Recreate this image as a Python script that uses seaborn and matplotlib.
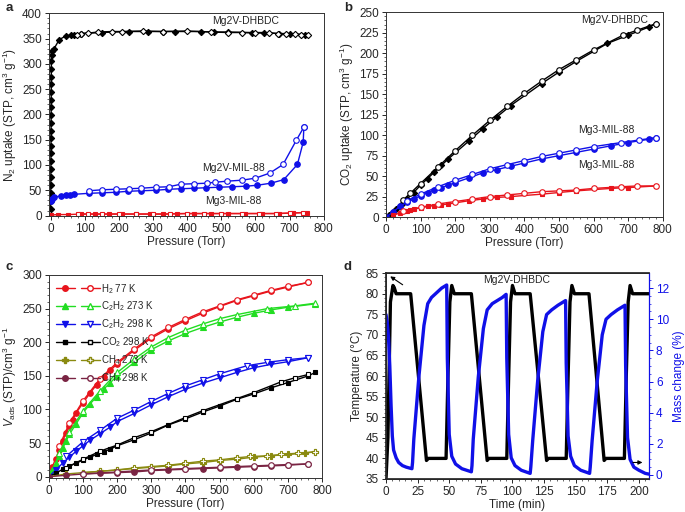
import numpy as np
import matplotlib
matplotlib.use("Agg")
import matplotlib.pyplot as plt
from matplotlib.ticker import MultipleLocator, AutoMinorLocator
from matplotlib.legend_handler import HandlerTuple
from matplotlib.lines import Line2D
import seaborn as sns

sns.set_theme(style="ticks")
plt.rcParams['font.family'] = ['Liberation Sans', 'DejaVu Sans']
plt.rcParams['mathtext.fontset'] = 'custom'
plt.rcParams['mathtext.rm'] = 'Liberation Sans'
plt.rcParams['mathtext.it'] = 'Liberation Sans:italic'
plt.rcParams['mathtext.bf'] = 'Liberation Sans:bold'

RED = "#e8141c"
BLUE = "#1010e8"
GREEN = "#22dd22"
OLIVE = "#8a8a10"
MAROON = "#7a2443"

# ---- panel a: N2 uptake ----
a_dh_ads_p = [0.1, 0.2, 0.3, 0.4, 0.5, 0.6, 0.7, 0.8, 0.9, 1.0, 1.1, 1.2, 1.3, 1.4, 1.5, 1.6, 1.7, 1.8, 1.9, 2.0,
              2.5, 4, 10, 25, 44, 59, 68, 88, 150, 230, 285, 330, 365, 440, 480, 520, 590, 625, 670, 700, 745]
a_dh_ads_v = [12, 28, 45, 60, 76, 92, 108, 123, 138, 153, 168, 183, 199, 214, 229, 245, 260, 275, 290, 305,
              318, 326, 330, 348, 355, 357, 358, 360, 362, 364, 364, 364, 364, 364, 363, 363, 362, 362, 360, 359, 358]
a_dh_des_p = [755, 735, 715, 690, 665, 640, 600, 560, 520, 470, 400, 330, 270, 210, 180, 140, 110, 90, 78]
a_dh_des_v = [358, 358, 359, 360, 360, 361, 361, 362, 362, 363, 365, 364, 365, 364, 364, 363, 361, 360, 358]

a_mil_ads_p = [0, 3, 10, 29, 46, 56, 68, 112, 151, 190, 226, 264, 308, 345, 381, 420, 454, 493, 532, 571, 606,
               645, 683, 723, 740, 742]
a_mil_ads_v = [28, 32, 36, 39, 40, 41, 42, 44, 45, 46, 48, 49, 50, 52, 53, 54, 55, 56, 57, 58, 60,
               64, 71, 101, 145, 175]
a_mil_des_p = [742, 720, 681, 642, 600, 561, 517, 483, 457, 420, 381, 347, 308, 264, 229, 190, 151, 112]
a_mil_des_v = [175, 149, 101, 84, 74, 70, 68, 66, 64, 63, 62, 57, 56, 54, 53, 52, 51, 49]

a_mg3_ads_p = [0, 20, 50, 90, 130, 170, 210, 250, 290, 330, 370, 420, 470, 520, 570, 620, 670, 710, 750]
a_mg3_ads_v = [1, 2, 2, 3, 3, 3, 3, 3, 3, 3, 4, 4, 4, 4, 4, 4, 4, 5, 6]
a_mg3_des_p = [740, 700, 660, 610, 560, 500, 450, 400, 350, 300, 250, 200, 150, 110, 80]
a_mg3_des_v = [6, 5, 4, 4, 4, 4, 4, 4, 3, 3, 3, 3, 3, 3, 3]

# ---- panel b: CO2 uptake ----
b_dh_ads_p = [0, 10, 20, 30, 40, 50, 60, 80, 100, 120, 140, 160, 180, 240, 280, 320, 360, 450, 500, 550, 640,
              700, 760, 780]
b_dh_ads_v = [0, 3, 6, 10, 14, 17, 22, 30, 39, 47, 55, 63, 71, 93, 108, 122, 136, 163, 177, 190, 212,
              222, 232, 236]
b_dh_des_p = [780, 725, 685, 600, 550, 500, 450, 400, 350, 300, 250, 200, 150, 100, 70, 50]
b_dh_des_v = [236, 228, 222, 204, 192, 180, 166, 151, 135, 118, 100, 81, 61, 41, 29, 21]

b_blue_ads_p = [0, 20, 40, 60, 80, 100, 120, 140, 160, 180, 200, 240, 280, 320, 360, 400, 450, 500, 550, 600,
                650, 700, 760, 780]
b_blue_ads_v = [0, 6, 13, 18, 22, 26, 30, 33, 36, 39, 42, 48, 54, 58, 62, 66, 71, 75, 79, 83,
                87, 91, 95, 97]
b_blue_des_p = [780, 730, 680, 600, 550, 500, 450, 400, 350, 300, 250, 200, 150, 100, 60]
b_blue_des_v = [97, 94, 91, 86, 82, 78, 74, 69, 64, 59, 52, 45, 37, 28, 20]

b_red_ads_p = [20, 40, 60, 70, 80, 100, 120, 140, 160, 180, 240, 280, 320, 360, 450, 500, 550, 650, 700, 780]
b_red_ads_v = [2, 5, 8, 9, 10, 11, 13, 14, 15, 16, 20, 22, 24, 25, 28, 30, 32, 35, 36, 38]
b_red_des_p = [780, 725, 680, 600, 550, 500, 450, 400, 350, 300, 250, 200, 150, 100, 50]
b_red_des_v = [38, 38, 37, 35, 33, 32, 31, 29, 27, 25, 22, 19, 16, 12, 7]

# ---- panel c: gas isotherms (adsorption / desorption) ----
c_h2_p = [0, 10, 20, 30, 40, 50, 60, 70, 80, 100, 120, 140, 160, 180, 200, 250, 300, 350, 400, 450, 500, 550,
          600, 650, 700, 760]
c_h2_v = [0, 15, 27, 40, 53, 65, 75, 85, 95, 110, 124, 137, 148, 158, 168, 188, 206, 220, 232, 243, 253, 262,
          269, 276, 282, 289]
c_h2_des_p = [760, 700, 650, 600, 550, 500, 450, 400, 350, 300, 250, 200, 150, 100, 60, 30]
c_h2_des_v = [289, 283, 277, 270, 263, 254, 245, 234, 222, 208, 190, 170, 146, 113, 80, 45]

c_c2h2a_p = [0, 10, 20, 30, 40, 50, 60, 80, 100, 120, 140, 160, 180, 200, 250, 300, 350, 400, 450, 500, 550,
             600, 650, 700, 780]
c_c2h2a_v = [0, 10, 20, 30, 42, 53, 63, 79, 95, 108, 119, 130, 140, 150, 170, 189, 202, 213, 222, 230, 237,
             243, 248, 252, 257]
c_c2h2a_des_p = [780, 720, 640, 550, 500, 450, 400, 350, 300, 250, 200, 150, 100, 60, 30]
c_c2h2a_des_v = [258, 254, 250, 241, 235, 227, 218, 207, 193, 175, 155, 128, 98, 67, 35]

c_c2h2b_p = [0, 20, 40, 60, 80, 100, 120, 150, 180, 200, 250, 300, 350, 400, 450, 500, 550, 600, 650, 700, 760]
c_c2h2b_v = [0, 10, 20, 29, 38, 46, 54, 64, 74, 82, 94, 107, 119, 130, 139, 147, 155, 162, 167, 171, 177]
c_c2h2b_des_p = [760, 700, 640, 580, 500, 450, 400, 350, 300, 250, 200, 150, 100, 50]
c_c2h2b_des_v = [177, 174, 170, 165, 153, 144, 135, 124, 112, 99, 87, 69, 52, 30]

c_co2_p = [0, 20, 40, 60, 80, 100, 120, 140, 160, 180, 200, 250, 300, 350, 400, 450, 500, 550, 600, 650,
           700, 760, 780]
c_co2_v = [0, 5, 11, 16, 20, 25, 29, 33, 37, 41, 46, 55, 65, 77, 86, 96, 105, 115, 123, 132, 140, 150, 155]
c_co2_des_p = [760, 720, 680, 600, 550, 450, 400, 300, 250, 200, 150, 100, 50]
c_co2_des_v = [152, 147, 141, 125, 116, 98, 88, 67, 58, 47, 38, 26, 13]

c_ch4a_p = [0, 50, 100, 150, 200, 250, 300, 350, 400, 450, 500, 550, 600, 650, 700, 750, 780]
c_ch4a_v = [0, 4, 6, 8, 10, 12, 14, 16, 19, 21, 24, 26, 29, 31, 33, 35, 37]
c_ch4a_des_p = [780, 730, 680, 640, 590, 550, 500, 450, 400, 350, 300, 250, 200, 150, 100]
c_ch4a_des_v = [37, 35, 33, 31, 30, 28, 25, 23, 20, 17, 15, 13, 10, 8, 6]

c_ch4b_p = [0, 50, 100, 150, 200, 250, 300, 350, 400, 450, 500, 550, 600, 650, 700, 760]
c_ch4b_v = [0, 2, 4, 5, 6, 7, 9, 10, 11, 12, 13, 14, 15, 16, 17, 19]
c_ch4b_des_p = [760, 700, 650, 600, 500, 400, 300, 200, 100]
c_ch4b_des_v = [19, 18, 17, 16, 14, 12, 10, 7, 4]

c_labels = ["H$_2$ 77 K", "C$_2$H$_2$ 273 K", "C$_2$H$_2$ 298 K", "CO$_2$ 298 K", "CH$_4$ 273 K", "CH$_4$ 298 K"]

# ---- panel d: cycling ----
d_temp_t = [0, 1.5, 3.5, 5.5, 6.5, 8, 19.5, 32, 33.5, 47.5, 49, 50.5, 52, 54, 67.5, 80, 81.5, 95.5, 97, 98.5,
            100, 102, 114, 127, 128.5, 142.5, 144, 145.5, 147, 149, 160.5, 172.5, 174, 188.5, 190, 191.5, 193,
            195, 208]
d_temp_v = [35, 45, 78, 82, 81.5, 80, 80, 39.5, 40, 40, 60, 78, 82, 80, 80, 39.5, 40, 40, 60, 78,
            82, 80, 80, 39.5, 40, 40, 60, 78, 82, 80, 80, 39.5, 40, 40, 60, 78, 82,
            80, 80]
d_mass_t = [0, 1, 2, 3, 4, 5, 6, 8, 10, 13, 16, 20.5, 21, 22, 26, 30, 33, 36, 40, 44, 48, 48.5, 50, 52, 55, 60,
            67.5, 68, 69, 73, 77, 80, 84, 88, 92, 95, 95.5, 97, 99, 102, 107, 114, 114.5, 116, 120, 124, 127,
            131, 136, 142, 142.5, 144, 146, 149, 154, 161, 161.5, 163, 167, 171, 174, 178, 183, 189, 189.5,
            191, 193, 196, 200, 205, 208]
d_mass_v = [10.3, 9.8, 8.8, 7.0, 4.5, 2.5, 1.6, 1.1, 0.8, 0.6, 0.5, 0.4, 0.8, 2.3, 6.3, 9.6, 11.0, 11.4, 11.7,
            12.0, 12.2, 7.5, 2.6, 1.2, 0.7, 0.4, 0.2, 0.6, 2.3, 6.3, 9.4, 10.6, 11.0, 11.2, 11.4, 11.6, 7.5,
            2.6, 1.1, 0.6, 0.3, 0.1, 0.5, 2.2, 6.1, 9.2, 10.3, 10.6, 10.9, 11.2, 7.2, 2.5, 1.2, 0.6, 0.3,
            0.1, 0.5, 2.2, 6.0, 9.0, 10.0, 10.3, 10.6, 10.9, 7.0, 2.4, 1.0, 0.5, 0.3, 0.1, 0.05]


def series(ax, p, v, color, marker, ms=4, filled=True, lw=1.0):
    sns.lineplot(x=p, y=v, ax=ax, color=color, marker=marker, markersize=ms,
                 markerfacecolor=color if filled else "white", markeredgecolor=color,
                 markeredgewidth=0.8, linewidth=lw, sort=False, estimator=None, legend=False)


def style(ax, xmaj, ymaj):
    ax.xaxis.set_major_locator(MultipleLocator(xmaj))
    ax.yaxis.set_major_locator(MultipleLocator(ymaj))
    ax.xaxis.set_minor_locator(AutoMinorLocator())
    ax.yaxis.set_minor_locator(AutoMinorLocator())
    ax.tick_params(which="major", direction="out", length=3, width=0.7, labelsize=8.5, pad=2)
    ax.tick_params(which="minor", direction="out", length=1.6, width=0.5)
    for s in ax.spines.values():
        s.set_linewidth(0.7)
        s.set_color("#333333")


fig = plt.figure(figsize=(6.85, 5.12), dpi=100)
ax_a = fig.add_axes([0.0715, 0.578, 0.401, 0.396])
ax_b = fig.add_axes([0.5635, 0.576, 0.404, 0.400])
ax_c = fig.add_axes([0.0715, 0.0664, 0.3985, 0.3965])
ax_d = fig.add_axes([0.5635, 0.0645, 0.384, 0.402])

# a
series(ax_a, a_dh_ads_p, a_dh_ads_v, "black", "D", ms=3.2)
series(ax_a, a_dh_des_p, a_dh_des_v, "black", "D", ms=3.2, filled=False)
series(ax_a, a_mil_ads_p, a_mil_ads_v, BLUE, "o", ms=4)
series(ax_a, a_mil_des_p, a_mil_des_v, BLUE, "o", ms=4, filled=False)
series(ax_a, a_mg3_ads_p, a_mg3_ads_v, RED, "s", ms=3)
series(ax_a, a_mg3_des_p, a_mg3_des_v, RED, "s", ms=3, filled=False)
ax_a.set_xlim(-5, 800)
ax_a.set_ylim(-1, 400)
style(ax_a, 100, 50)
ax_a.set_xlabel("Pressure (Torr)", fontsize=8.5, labelpad=1)
ax_a.set_ylabel("N$_2$ uptake (STP, cm$^3$ g$^{-1}$)", fontsize=8.5, labelpad=2)
ax_a.text(572, 384, "Mg2V-DHBDC", fontsize=7.5, ha="center", va="center")
ax_a.text(536, 95, "Mg2V-MIL-88", fontsize=7.5, ha="center", va="center")
ax_a.text(536, 28, "Mg3-MIL-88", fontsize=7.5, ha="center", va="center")

# b
series(ax_b, b_dh_ads_p, b_dh_ads_v, "black", "D", ms=3.2)
series(ax_b, b_dh_des_p, b_dh_des_v, "black", "o", ms=4, filled=False)
series(ax_b, b_blue_ads_p, b_blue_ads_v, BLUE, "o", ms=4)
series(ax_b, b_blue_des_p, b_blue_des_v, BLUE, "o", ms=4, filled=False)
series(ax_b, b_red_ads_p, b_red_ads_v, RED, "s", ms=3.5)
series(ax_b, b_red_des_p, b_red_des_v, RED, "o", ms=4, filled=False)
ax_b.set_xlim(0, 800)
ax_b.set_ylim(0, 250)
style(ax_b, 100, 25)
ax_b.set_xlabel("Pressure (Torr)", fontsize=8.5, labelpad=1)
ax_b.set_ylabel("CO$_2$ uptake (STP, cm$^3$ g$^{-1}$)", fontsize=8.5, labelpad=2)
ax_b.text(662, 240, "Mg2V-DHBDC", fontsize=7.5, ha="center", va="center")
ax_b.text(638, 106, "Mg3-MIL-88", fontsize=7.5, ha="center", va="center")
ax_b.text(638, 63, "Mg3-MIL-88", fontsize=7.5, ha="center", va="center")

# c
c_sets = [(c_h2_p, c_h2_v, c_h2_des_p, c_h2_des_v, RED, "o", 4),
          (c_c2h2a_p, c_c2h2a_v, c_c2h2a_des_p, c_c2h2a_des_v, GREEN, "^", 4),
          (c_c2h2b_p, c_c2h2b_v, c_c2h2b_des_p, c_c2h2b_des_v, BLUE, "v", 4),
          (c_co2_p, c_co2_v, c_co2_des_p, c_co2_des_v, "black", "s", 3.5),
          (c_ch4a_p, c_ch4a_v, c_ch4a_des_p, c_ch4a_des_v, OLIVE, "P", 4),
          (c_ch4b_p, c_ch4b_v, c_ch4b_des_p, c_ch4b_des_v, MAROON, "o", 4)]
handles = []
for (p, v, pd, vd, col, mk, ms), lab in zip(c_sets, c_labels):
    series(ax_c, p, v, col, mk, ms=ms)
    series(ax_c, pd, vd, col, mk, ms=ms, filled=False)
    h1 = Line2D([], [], color=col, marker=mk, markersize=ms, lw=1)
    h2 = Line2D([], [], color=col, marker=mk, markersize=ms, lw=1, markerfacecolor="white")
    handles.append((h1, h2))
ax_c.legend(handles, c_labels, handler_map={tuple: HandlerTuple(ndivide=None, pad=0.6)},
            loc="upper left", fontsize=7, frameon=False, handlelength=4.5, labelspacing=0.42,
            handletextpad=0.2, borderaxespad=0.3)
ax_c.set_xlim(0, 800)
ax_c.set_ylim(-2, 300)
style(ax_c, 100, 50)
ax_c.set_xlabel("Pressure (Torr)", fontsize=8.5, labelpad=1)
ax_c.set_ylabel("$V_{\\rm ads}$ (STP)/cm$^3$ g$^{-1}$", fontsize=8.5, labelpad=2)

# d
sns.lineplot(x=d_temp_t, y=d_temp_v, ax=ax_d, color="black", linewidth=2.4, sort=False, estimator=None)
ax_d.set_xlim(0, 208)
ax_d.set_ylim(35, 85)
style(ax_d, 25, 5)
ax_d.set_xlabel("Time (min)", fontsize=8.5, labelpad=1)
ax_d.set_ylabel("Temperature (°C)", fontsize=8.5, labelpad=2)
ax_d.text(103, 83.4, "Mg2V-DHBDC", fontsize=7.5, ha="center", va="center")
ax_d.annotate("", xy=(1.5, 84.6), xytext=(15, 81.8),
              arrowprops=dict(arrowstyle="-|>", color="black", lw=0.8, mutation_scale=6))

ax_d2 = ax_d.twinx()
sns.lineplot(x=d_mass_t, y=d_mass_v, ax=ax_d2, color=BLUE, linewidth=2.4, sort=False, estimator=None)
ax_d2.set_ylim(-0.26, 12.96)
ax_d2.yaxis.set_major_locator(MultipleLocator(2))
ax_d2.yaxis.set_minor_locator(AutoMinorLocator())
ax_d2.tick_params(axis="y", which="major", direction="out", length=3, width=0.7, labelsize=8.5,
                  colors=BLUE, pad=2)
ax_d2.tick_params(axis="y", which="minor", direction="out", length=1.6, width=0.5, colors=BLUE)
ax_d2.spines["right"].set_color(BLUE)
ax_d2.spines["right"].set_linewidth(0.9)
ax_d2.set_ylabel("Mass change (%)", fontsize=8.5, color=BLUE, labelpad=3)
ax_d2.annotate("", xy=(205, 0.8), xytext=(193, 0.8),
               arrowprops=dict(arrowstyle="-|>", color="black", lw=0.8, mutation_scale=6))

for lbl, x, y in [("a", 0.008, 0.985), ("b", 0.502, 0.985), ("c", 0.008, 0.478), ("d", 0.502, 0.478)]:
    fig.text(x, y, lbl, fontsize=9.5, fontweight="bold", ha="left", va="center")

fig.savefig("out.png", dpi=100)
